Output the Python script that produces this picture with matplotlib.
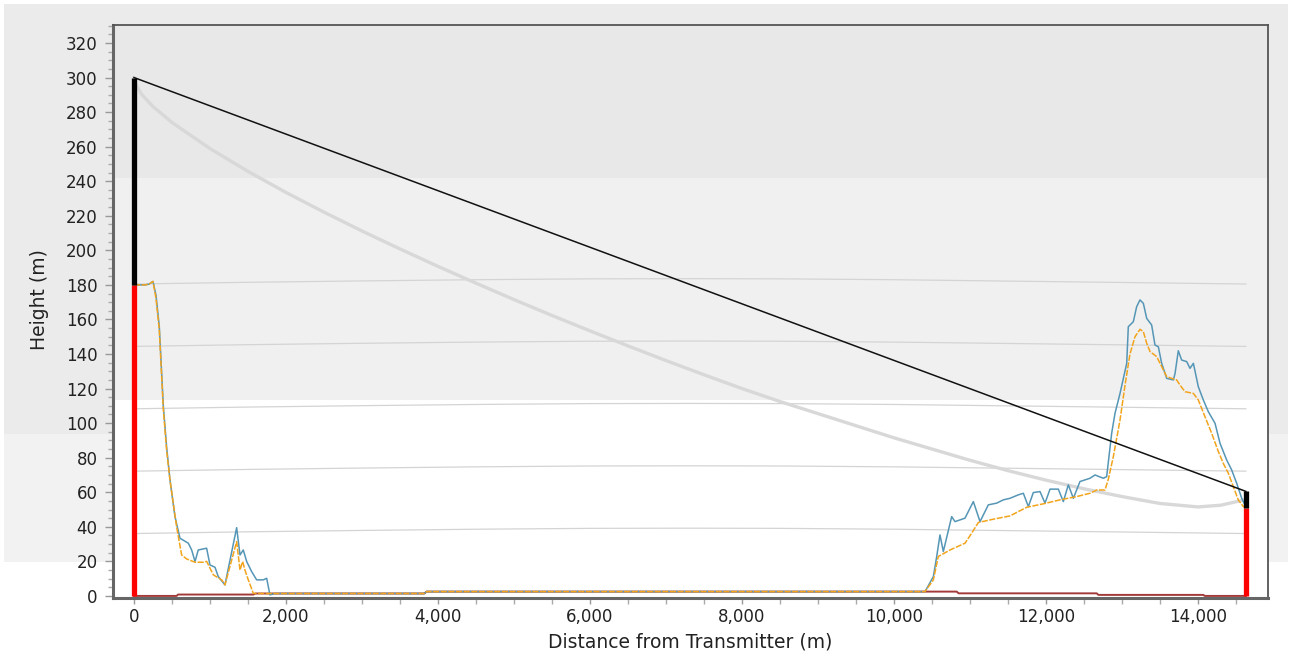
import matplotlib
matplotlib.use("Agg")
import matplotlib.pyplot as plt
from matplotlib.patches import Rectangle
from matplotlib.ticker import MultipleLocator, FuncFormatter
import numpy as np

# ---------------- data ----------------
tx_distance = 0.0
tx_ground = 180.0
tx_top = 300.0
rx_distance = 14630.0
rx_ground = 51.0
rx_top = 60.5

# terrain + clutter (blue)
clutter_x = [0, 150, 200, 250, 290, 333, 386, 430, 474, 539, 605, 715, 759, 803, 846, 956, 1000, 1066,
             1109, 1197, 1351, 1395, 1438, 1483, 1548, 1614, 1702, 1746, 1789, 1850, 3820, 3850, 10408,
             10518, 10562, 10605, 10649, 10759, 10803, 10934, 11044, 11132, 11241, 11351, 11439, 11526,
             11636, 11702, 11768, 11833, 11921, 11987, 12053, 12162, 12228, 12294, 12360, 12447, 12579,
             12645, 12754, 12798, 12864, 12908, 12974, 13062, 13083, 13149, 13193, 13237, 13281, 13325,
             13390, 13434, 13478, 13522, 13588, 13676, 13698, 13741, 13785, 13851, 13895, 13939, 14004,
             14070, 14136, 14224, 14290, 14377, 14443, 14509, 14575, 14630]
clutter_h = [180, 180, 180.5, 182, 174, 156, 110, 86, 67, 46, 33.4, 30.5, 26.6, 19.9, 26.6, 27.6, 17.9, 16.6,
             11.2, 6.4, 39.5, 23.7, 26.6, 19.9, 14.1, 9.3, 9.3, 10.2, 0.6, 1.4, 1.4, 2.5, 2.5,
             11.2, 22.8, 35.3, 25.7, 45.9, 43.0, 45.0, 54.6, 43.0, 52.7, 53.7, 55.6, 56.5,
             58.5, 59.4, 51.7, 59.8, 60.4, 53.7, 61.8, 61.8, 54.6, 64.3, 56.5, 66.2, 68.1,
             70.0, 68.1, 69.0, 94.1, 105.7, 117.2, 134.6, 155.8, 158.7, 167.4, 171.3, 169.3, 160.6,
             156.8, 145.2, 144.2, 134.6, 125.9, 125.0, 128.8, 141.9, 136.5, 135.6, 131.7, 134.6, 121.1,
             113.4, 106.6, 99.9, 88.3, 78.7, 72.9, 65.2, 56.5, 51.5]

# bare terrain (orange)
terrain_x = [0, 150, 200, 250, 290, 333, 386, 430, 474, 561, 627, 693, 803, 912, 956, 1044, 1154, 1197,
             1351, 1395, 1430, 1460, 1504, 1570, 1650, 3820, 3850, 10408, 10518, 10583, 10737, 10934,
             11022, 11110, 11307, 11526, 11746, 11965, 12184, 12404, 12579, 12667, 12776, 12820, 12886,
             12974, 13040, 13105, 13171, 13237, 13281, 13325, 13369, 13456, 13522, 13588, 13719, 13763,
             13829, 13939, 14004, 14092, 14180, 14268, 14333, 14399, 14465, 14531, 14597, 14630]
terrain_h = [180, 180, 180.5, 182, 172, 154, 108, 84, 67, 40, 23.7, 21.4, 19.5, 19.5, 20, 12.2, 9.3, 6.4,
             31.4, 15, 19.9, 15, 9.3, 1.5, 1.4, 1.4, 2.5, 2.5, 9.3, 22.8, 26.6, 30.5,
             36.3, 42.5, 44.4, 46.3, 51.3, 53.3, 55.6, 57.5, 59.4, 61.3, 61.3, 67.5, 80.6,
             101.8, 122, 140, 150, 154.3, 152.9, 146.2, 141.4, 138.5, 132.7, 126.9, 125, 122,
             118.2, 117.2, 113.4, 103.7, 94.1, 83.5, 76.7, 71, 63.2, 55.5, 51.7, 51]

# low dark-red series
low_x = [0, 560, 580, 1570, 1600, 3820, 3850, 10825, 10850, 12667, 12690, 14069, 14090, 14630]
low_h = [0, 0, 0.8, 0.8, 1.4, 1.4, 2.5, 2.5, 1.5, 1.5, 0.6, 0.6, 0, 0]

# lower Fresnel-zone boundary (light grey curve)
fresnel_x = [0, 30, 100, 250, 500, 1000, 1500, 2000, 2500, 3000, 3500, 4000, 4500, 5000, 5500, 6000,
             6500, 7000, 7500, 8000, 8500, 9000, 9500, 10000, 10500, 11000, 11500, 12000, 12500,
             13000, 13500, 14000, 14300, 14600]
fresnel_h = [300, 295.5, 290.3, 283.2, 274.0, 258.9, 245.7, 233.5, 222.1, 211.2, 200.8, 190.7, 181.0,
             171.5, 162.3, 153.4, 144.7, 136.2, 128.0, 120.0, 112.5, 105.5, 98.5, 91.5, 85.0, 78.5,
             72.5, 67.0, 62.0, 57.5, 53.5, 51.5, 52.5, 55.5]

# faint reference lines (levels and their earth-bulge offset)
ref_levels = [36.1, 72.2, 108.3, 144.4, 180.5]
bulge_x = [0, 1500, 3000, 4500, 6000, 7300, 8500, 10000, 11500, 13000, 14630]
bulge_h = [0, 1.0, 1.8, 2.5, 3.0, 3.1, 3.0, 2.5, 1.7, 0.9, 0]

x_ticks = [0, 2000, 4000, 6000, 8000, 10000, 12000, 14000]
y_ticks = list(range(0, 321, 20))

# ---------------- figure ----------------
W, H = 1290, 656
fig = plt.figure(figsize=(W / 100, H / 100), dpi=100, facecolor="white")


def fig_rect(x0, y0, x1, y1, color):
    fig.patches.append(Rectangle((x0 / W, 1 - y1 / H), (x1 - x0) / W, (y1 - y0) / H,
                                 transform=fig.transFigure, facecolor=color, edgecolor="none",
                                 zorder=-10))


fig_rect(4, 4, 1288, 434, "#ebebeb")
fig_rect(4, 434, 1288, 562, "#f2f2f2")

ax_l, ax_r, ax_t, ax_b = 113, 1268, 25, 598
ax = fig.add_axes([ax_l / W, 1 - ax_b / H, (ax_r - ax_l) / W, (ax_b - ax_t) / H])
ax.set_facecolor("white")

# plot-area bands
ax.add_patch(Rectangle((0, 0.3455), 1, 0.3875, transform=ax.transAxes, facecolor="#f0f0f0",
                       edgecolor="none", zorder=0))
ax.add_patch(Rectangle((0, 0.733), 1, 0.267, transform=ax.transAxes, facecolor="#e8e8e8",
                       edgecolor="none", zorder=0))

ax.set_xlim(-276, 14921)
ax.set_ylim(-1.2, 330.4)

# faint reference lines
bx = np.array(bulge_x, dtype=float)
bh = np.array(bulge_h, dtype=float)
for lvl in ref_levels:
    ax.plot(bx, lvl + bh, color="#d4d4d4", lw=0.9, zorder=1)

# Fresnel boundary
ax.plot(fresnel_x, fresnel_h, color="#d8d8d8", lw=2.4, zorder=2, solid_capstyle="round")

# line of sight
ax.plot([tx_distance, rx_distance], [tx_top, rx_top], color="#111111", lw=1.1, zorder=5)

# profiles
ax.plot(low_x, low_h, color="#a33a3a", lw=1.4, zorder=3)
ax.plot(clutter_x, clutter_h, color="#5596b6", lw=1.1, zorder=4)
ax.plot(terrain_x, terrain_h, color="#f2a41c", lw=1.1, ls=(0, (4, 1.0)), zorder=4.5)

# antennas
ax.plot([tx_distance, tx_distance], [0, tx_ground], color="#ff0000", lw=3.8, zorder=6,
        solid_capstyle="butt")
ax.plot([tx_distance, tx_distance], [tx_ground, tx_top], color="#000000", lw=3.8, zorder=6,
        solid_capstyle="butt")
ax.plot([rx_distance, rx_distance], [0, rx_ground], color="#ff0000", lw=3.8, zorder=6,
        solid_capstyle="butt")
ax.plot([rx_distance, rx_distance], [rx_ground, rx_top], color="#000000", lw=3.8, zorder=6,
        solid_capstyle="butt")

# axes styling
for side in ("left", "bottom"):
    ax.spines[side].set_color("#666666")
    ax.spines[side].set_linewidth(2.2)
for side in ("top", "right"):
    ax.spines[side].set_color("#555555")
    ax.spines[side].set_linewidth(1.3)

ax.set_xticks(x_ticks)
ax.set_yticks(y_ticks)
ax.xaxis.set_minor_locator(MultipleLocator(500))
ax.yaxis.set_minor_locator(MultipleLocator(5))
ax.xaxis.set_major_formatter(FuncFormatter(lambda v, p: f"{v:,.0f}"))
ax.tick_params(axis="both", which="major", direction="out", width=1, color="#999999",
               labelsize=12, labelcolor="#222222")
ax.tick_params(axis="both", which="minor", direction="out", width=1, color="#aaaaaa")
ax.tick_params(axis="y", which="major", length=6, pad=5)
ax.tick_params(axis="y", which="minor", length=3.5)
ax.tick_params(axis="x", which="major", length=4.5, pad=3)
ax.tick_params(axis="x", which="minor", length=4.5)

ax.set_xlabel("Distance from Transmitter (m)", fontsize=13.5, color="#222222")
ax.set_ylabel("Height (m)", fontsize=13.5, color="#222222")
ax.xaxis.set_label_coords(0.5, -0.061)
ax.yaxis.set_label_coords(-0.055, 0.52)

fig.savefig("out.png", dpi=100, facecolor=fig.get_facecolor())
